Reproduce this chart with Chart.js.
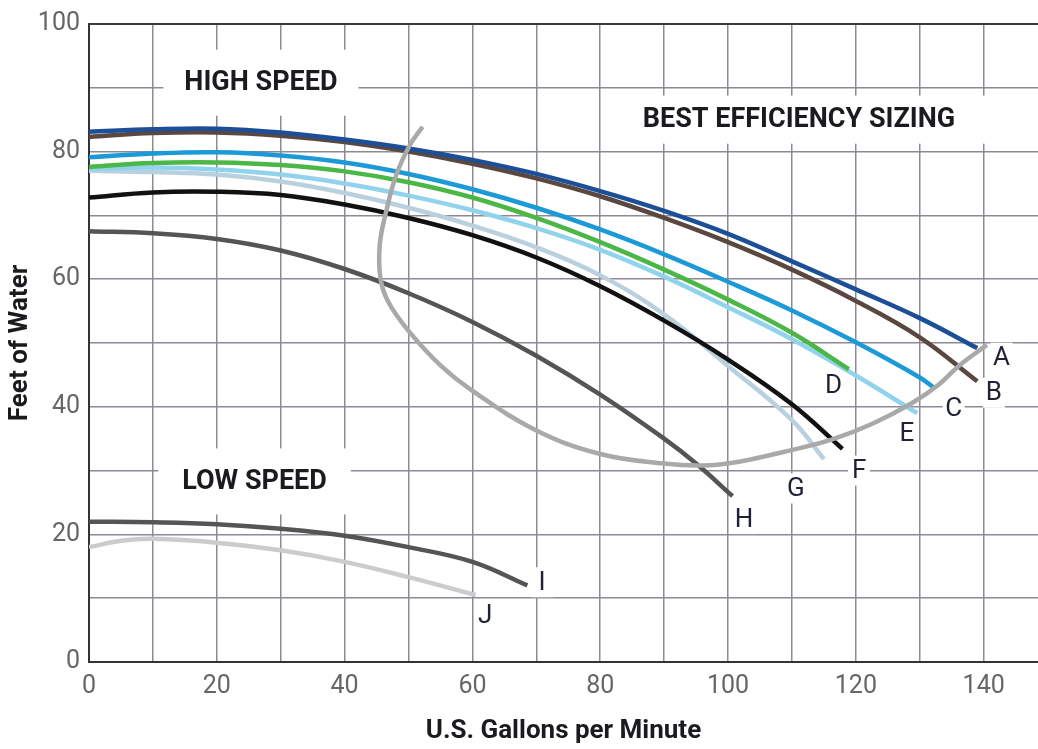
<!DOCTYPE html>
<html>
<head>
<meta charset="utf-8">
<script src="https://cdn.jsdelivr.net/npm/chart.js@4"></script>
<style>
  html, body { margin: 0; padding: 0; background: #fff; }
  #wrap { width: 1038px; height: 749px; }
</style>
</head>
<body>
<div id="wrap"><canvas id="pumpChart" width="1038" height="749"></canvas></div>
<script>
// pump curves, flow (US gpm) vs head (feet of water)
const flowA = [0, 10, 20, 30, 40, 50, 60, 70, 80, 90, 100, 110, 120, 130, 139];
const headA = [83.1, 83.5, 83.6, 83.0, 81.9, 80.5, 78.7, 76.5, 73.8, 70.7, 67.1, 62.8, 58.4, 53.9, 49.2];
const flowB = [0, 10, 20, 30, 40, 50, 60, 70, 80, 90, 100, 110, 120, 130, 139];
const headB = [82.3, 82.9, 83.0, 82.5, 81.5, 80.0, 78.1, 75.8, 73.0, 69.6, 65.8, 61.5, 56.6, 50.9, 44.0];
const flowC = [0, 10, 20, 30, 40, 50, 60, 70, 80, 90, 100, 110, 120, 130, 132.2];
const headC = [79.1, 79.7, 79.9, 79.4, 78.3, 76.5, 74.1, 71.2, 67.8, 63.9, 59.6, 55.1, 50.1, 44.6, 43.0];
const flowD = [0, 10, 20, 30, 40, 50, 60, 70, 80, 90, 100, 110, 118.9];
const headD = [77.6, 78.2, 78.3, 77.9, 76.9, 75.2, 72.8, 69.6, 65.8, 61.5, 56.8, 51.6, 45.9];
const flowE = [0, 10, 20, 30, 40, 50, 60, 70, 80, 90, 100, 110, 120, 129.6];
const headE = [77.3, 77.5, 77.2, 76.4, 75.0, 73.1, 70.8, 68.0, 64.6, 60.4, 55.6, 50.6, 44.9, 39.0];
const flowF = [0, 10, 20, 30, 40, 50, 60, 70, 80, 90, 100, 110, 117.9];
const headF = [72.8, 73.6, 73.7, 73.2, 71.7, 69.6, 66.9, 63.4, 58.9, 53.5, 47.4, 40.4, 33.4];
const flowG = [0, 10, 20, 30, 40, 50, 60, 70, 80, 90, 100, 110, 115];
const headG = [77.0, 76.8, 76.4, 75.3, 73.5, 71.2, 68.4, 65.0, 60.6, 54.5, 46.4, 37.9, 31.8];
const flowH = [0, 10, 20, 30, 40, 50, 60, 70, 80, 90, 95, 100.7];
const headH = [67.5, 67.2, 66.3, 64.5, 61.6, 57.8, 53.3, 48.0, 41.9, 35.0, 31.1, 26.0];
const flowI = [0, 10, 20, 30, 40, 50, 60, 68.6];
const headI = [22, 21.9, 21.6, 20.9, 19.8, 18, 15.7, 12];
const flowJ = [0, 5, 10, 20, 30, 40, 50, 60.5];
const headJ = [18, 19, 19.3, 18.7, 17.5, 15.7, 13.3, 10.5];

// best efficiency boundary
const effFlow = [52.2, 50.2, 48.1, 46.5, 45.5, 45.6, 46.8, 50, 55, 60, 70, 80, 90, 96, 101.7, 109, 116.3, 122.5, 128.8, 133, 136.1, 140.5];
const effHead = [83.9, 81, 76.4, 70.6, 65.4, 60.2, 56.5, 51.9, 46.5, 42.5, 36.3, 32.6, 31.1, 30.8, 31.4, 33, 34.9, 37.3, 40.6, 43.5, 46.4, 49.7];

// curve letters
const letterText = ['A', 'B', 'C', 'D', 'E', 'F', 'G', 'H', 'I', 'J'];
const letterFlow = [142.8, 141.6, 135.3, 116.5, 128, 120.5, 110.6, 102.5, 70.9, 62];
const letterHead = [47.7, 42.2, 39.8, 43.3, 35.8, 30, 27.2, 22.4, 12.5, 7.3];

// region captions
const noteText = ['HIGH SPEED', 'BEST EFFICIENCY SIZING', 'LOW SPEED'];
const noteFlow = [26.9, 111.1, 25.9];
const noteHead = [90.8, 85, 28.3];

const xTicks = [0, 20, 40, 60, 80, 100, 120, 140];
const yTicks = [0, 20, 40, 60, 80, 100];

function pts(xs, ys) {
  return xs.map((v, i) => ({ x: v, y: ys[i] }));
}

function curve(xs, ys, color) {
  return {
    data: pts(xs, ys),
    borderColor: color,
    borderWidth: 4.5,
    pointRadius: 0,
    tension: 0.4,
    fill: false
  };
}

const notesPlugin = {
  id: 'notes',
  beforeDatasetsDraw(chart) {
    const { ctx, chartArea, scales: { x, y } } = chart;
    ctx.save();
    ctx.textAlign = 'center';
    ctx.textBaseline = 'middle';

    // captions on white boxes
    const padX = [21, 35, 24];
    const padY = [22, 13, 22];
    ctx.font = 'bold 27px Roboto';
    noteText.forEach((t, i) => {
      const px = x.getPixelForValue(noteFlow[i]);
      const py = y.getPixelForValue(noteHead[i]);
      const w = ctx.measureText(t).width;
      ctx.fillStyle = '#fff';
      ctx.fillRect(px - w / 2 - padX[i], py - 11 - padY[i], w + 2 * padX[i], 22 + 2 * padY[i]);
      ctx.fillStyle = '#1b1b1f';
      ctx.fillText(t, px, py + 1);
    });

    // curve letters
    ctx.font = '26px Roboto';
    letterText.forEach((t, i) => {
      const px = x.getPixelForValue(letterFlow[i]);
      const py = y.getPixelForValue(letterHead[i]);
      ctx.fillStyle = '#fff';
      ctx.fillRect(px - 11, py - 15, 22, 30);
      ctx.fillStyle = '#1f2233';
      ctx.fillText(t, px, py + 1);
    });

    // top frame line
    ctx.strokeStyle = '#3a3a3a';
    ctx.lineWidth = 2;
    ctx.beginPath();
    ctx.moveTo(chartArea.left, chartArea.top);
    ctx.lineTo(chartArea.right, chartArea.top);
    ctx.stroke();
    ctx.restore();
  }
};

const gridStyle = { color: '#8e8a94', lineWidth: 1.5, drawTicks: false };

new Chart(document.getElementById('pumpChart').getContext('2d'), {
  type: 'line',
  data: {
    datasets: [
      curve(effFlow, effHead, '#a9a9a9'),
      curve(flowA, headA, '#1d4f98'),
      curve(flowB, headB, '#5a4840'),
      curve(flowC, headC, '#1c9ad8'),
      curve(flowD, headD, '#4bb746'),
      curve(flowE, headE, '#92d3ec'),
      curve(flowF, headF, '#111111'),
      curve(flowG, headG, '#b9d0df'),
      curve(flowH, headH, '#555555'),
      curve(flowI, headI, '#555555'),
      curve(flowJ, headJ, '#cccccc')
    ]
  },
  options: {
    responsive: false,
    animation: false,
    layout: { padding: { top: 22, right: 0, bottom: 0, left: 0 } },
    plugins: { legend: { display: false }, tooltip: { enabled: false } },
    scales: {
      x: {
        type: 'linear',
        min: 0,
        max: 148.5,
        grid: gridStyle,
        border: { display: true, color: '#333', width: 2 },
        afterFit: s => { s.height = 87; },
        ticks: {
          stepSize: 10,
          includeBounds: false,
          padding: 10,
          color: '#666',
          font: { family: 'Roboto', size: 25 },
          maxRotation: 0,
          autoSkip: false,
          callback: v => (xTicks.includes(v) ? String(v) : '')
        },
        title: {
          display: true,
          text: 'U.S. Gallons per Minute',
          color: '#1b1b1f',
          font: { family: 'Roboto', size: 26, weight: 'bold' },
          padding: { top: 0, bottom: 2 }
        }
      },
      y: {
        type: 'linear',
        min: 0,
        max: 100,
        grid: gridStyle,
        border: { display: true, color: '#333', width: 2 },
        afterFit: s => { s.width = 89; },
        ticks: {
          stepSize: 10,
          padding: 9,
          color: '#666',
          font: { family: 'Roboto', size: 25 },
          autoSkip: false,
          callback: v => (yTicks.includes(v) ? String(v) : '')
        },
        title: {
          display: true,
          text: 'Feet of Water',
          color: '#1b1b1f',
          font: { family: 'Roboto', size: 26, weight: 'bold' },
          padding: { top: 5, bottom: 0 }
        }
      }
    }
  },
  plugins: [notesPlugin]
});
</script>
</body>
</html>
